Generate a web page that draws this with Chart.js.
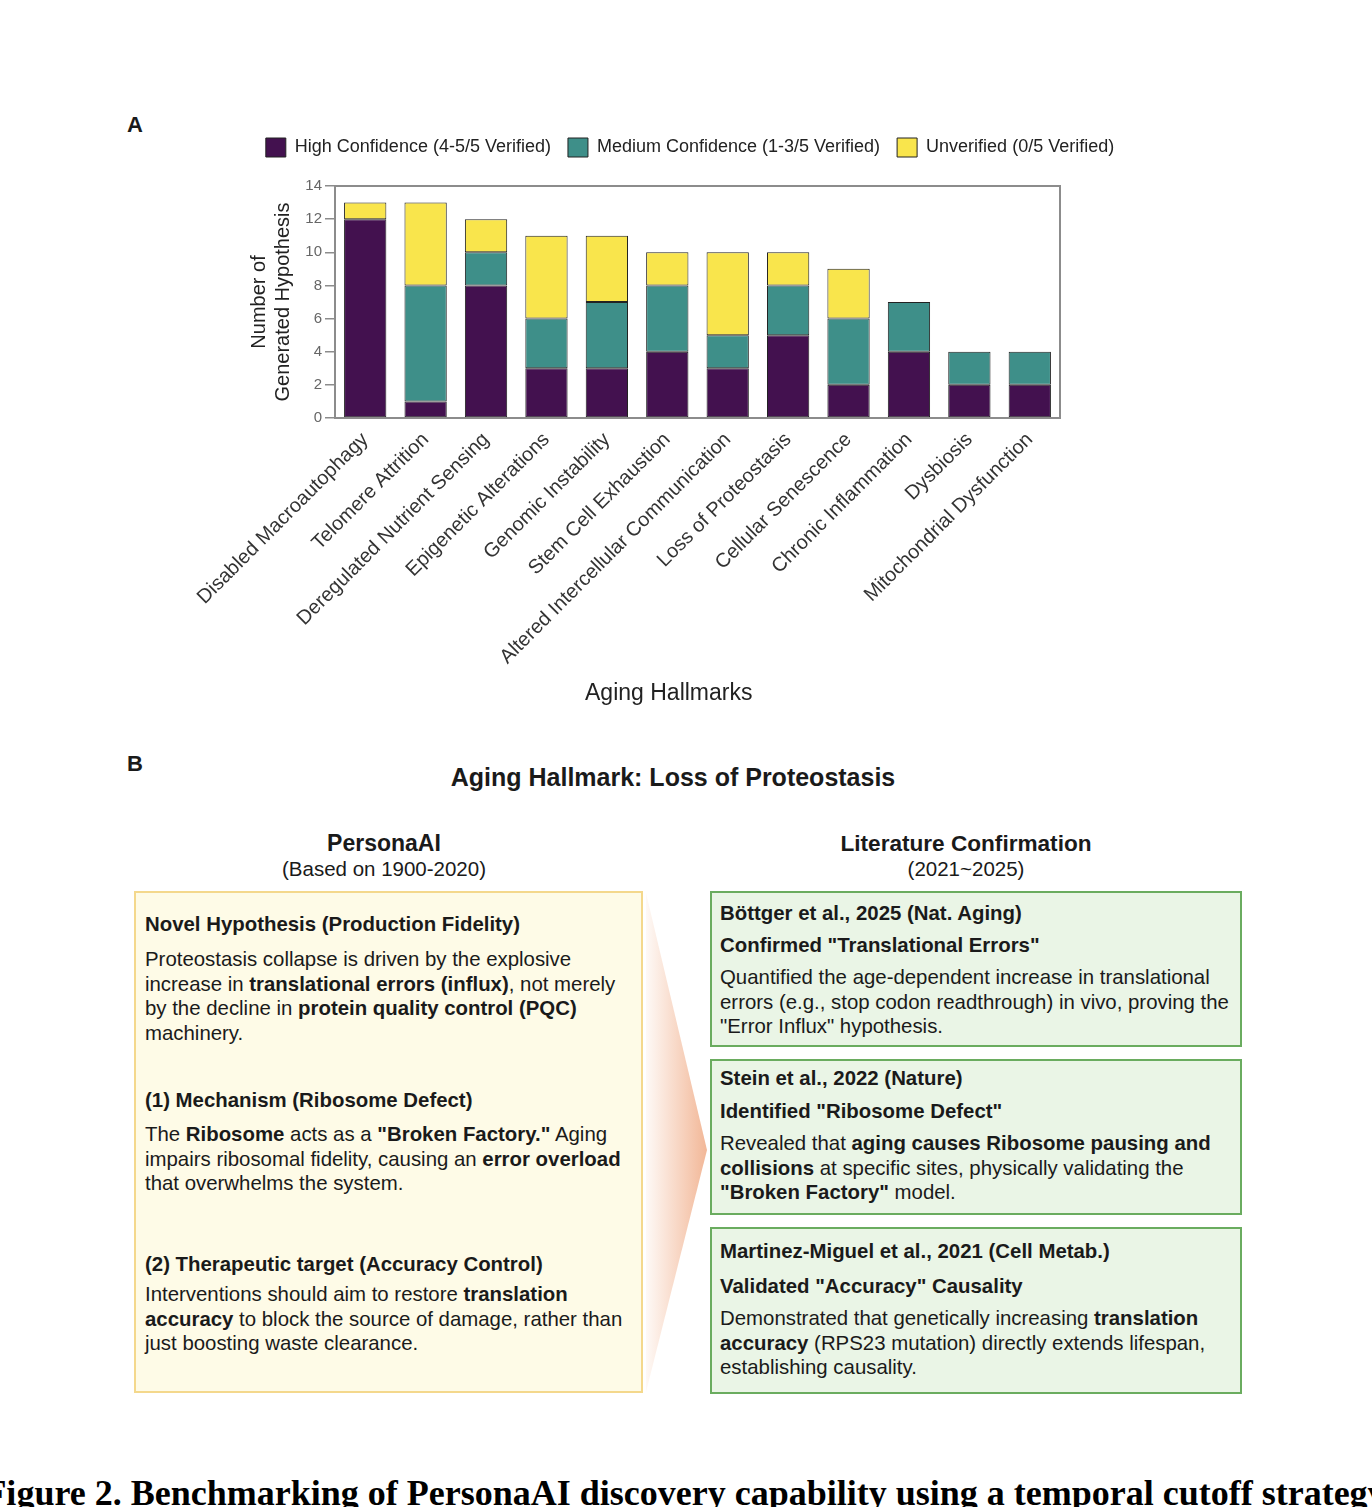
<!DOCTYPE html>
<html lang="en">
<head>
<meta charset="UTF-8">
<title>Aging Hallmarks - PersonaAI</title>
<script src="https://cdn.jsdelivr.net/npm/chart.js@4.4.1/dist/chart.umd.min.js"></script>
<style>
    body { margin: 0; width: 1372px; height: 1507px; position: relative; overflow: hidden; background: #fff;
           font-family: "Liberation Sans", Arial, sans-serif; color: #1a1a1a; }
    #hallmarkChart { position: absolute; left: 0; top: 0; }
    .abs { position: absolute; white-space: nowrap; }
    .plabel { font-weight: bold; font-size: 22px; line-height: 24px; }
    .center { text-align: center; }
    .box { position: absolute; box-sizing: border-box; border: 2px solid; }
    .yellow { background: #fefbe7; border-color: #f4d88c; }
    .green { background: #eaf5e6; border-color: #6aac5f; }
    .box .t { position: absolute; left: 8px; white-space: nowrap; font-size: 20.4px; line-height: 24.5px; }
    .yellow .t { left: 9px; }
    .box .h { font-weight: bold; }
    #arrow { position: absolute; left: 646px; top: 893px; width: 61px; height: 499px;
             clip-path: polygon(0 0, 100% 51.5%, 0 100%);
             background: linear-gradient(to right, rgba(252, 236, 226, 0.3), #f2b797); }
    #caption { position: absolute; top: 1475px; left: 685px; transform: translateX(-50%); white-space: nowrap;
               font-family: "Liberation Serif", "Times New Roman", serif; font-weight: bold; font-size: 36px; line-height: 36px; color: #000; }
</style>
</head>
<body>

<div class="abs plabel" style="left:127px; top:113px;">A</div>
<canvas id="hallmarkChart" width="1372" height="720"></canvas>

<div class="abs plabel" style="left:127px; top:752px;">B</div>
<div class="abs center" style="left:373px; width:600px; top:763px; font-size:25px; line-height:29px; font-weight:bold;">Aging Hallmark: Loss of Proteostasis</div>

<div class="abs center" style="left:234px; width:300px; top:830px; font-size:23px; line-height:27px; font-weight:bold;">PersonaAI</div>
<div class="abs center" style="left:234px; width:300px; top:857px; font-size:20.5px; line-height:24px;">(Based on 1900-2020)</div>
<div class="abs center" style="left:816px; width:300px; top:830px; font-size:22.6px; line-height:27px; font-weight:bold;">Literature Confirmation</div>
<div class="abs center" style="left:816px; width:300px; top:857px; font-size:20.5px; line-height:24px;">(2021~2025)</div>

<div class="box yellow" style="left:134px; top:891px; width:509px; height:502px;">
    <div class="t h" style="top:19px;">Novel Hypothesis (Production Fidelity)</div>
    <div class="t" style="top:54px;">Proteostasis collapse is driven by the explosive<br>increase in <b>translational errors (influx)</b>, not merely<br>by the decline in <b>protein quality control (PQC)</b><br>machinery.</div>
    <div class="t h" style="top:195px;">(1) Mechanism (Ribosome Defect)</div>
    <div class="t" style="top:229px;">The <b>Ribosome</b> acts as a <b>"Broken Factory."</b> Aging<br>impairs ribosomal fidelity, causing an <b>error overload</b><br>that overwhelms the system.</div>
    <div class="t h" style="top:359px;">(2) Therapeutic target (Accuracy Control)</div>
    <div class="t" style="top:389px;">Interventions should aim to restore <b>translation</b><br><b>accuracy</b> to block the source of damage, rather than<br>just boosting waste clearance.</div>
</div>

<div id="arrow"></div>

<div class="box green" style="left:710px; top:891px; width:532px; height:156px;">
    <div class="t h" style="top:8px;">Böttger et al., 2025 (Nat. Aging)</div>
    <div class="t h" style="top:40px;">Confirmed "Translational Errors"</div>
    <div class="t" style="top:72px;">Quantified the age-dependent increase in translational<br>errors (e.g., stop codon readthrough) in vivo, proving the<br>"Error Influx" hypothesis.</div>
</div>
<div class="box green" style="left:710px; top:1059px; width:532px; height:156px;">
    <div class="t h" style="top:5px;">Stein et al., 2022 (Nature)</div>
    <div class="t h" style="top:38px;">Identified "Ribosome Defect"</div>
    <div class="t" style="top:70px;">Revealed that <b>aging causes Ribosome pausing and</b><br><b>collisions</b> at specific sites, physically validating the<br><b>"Broken Factory"</b> model.</div>
</div>
<div class="box green" style="left:710px; top:1227px; width:532px; height:167px;">
    <div class="t h" style="top:10px;">Martinez-Miguel et al., 2021 (Cell Metab.)</div>
    <div class="t h" style="top:45px;">Validated "Accuracy" Causality</div>
    <div class="t" style="top:77px;">Demonstrated that genetically increasing <b>translation</b><br><b>accuracy</b> (RPS23 mutation) directly extends lifespan,<br>establishing causality.</div>
</div>

<div id="caption">Figure 2. Benchmarking of PersonaAI discovery capability using a temporal cutoff strategy</div>

<script>
    var hallmarks = ['Disabled Macroautophagy', 'Telomere Attrition', 'Deregulated Nutrient Sensing',
        'Epigenetic Alterations', 'Genomic Instability', 'Stem Cell Exhaustion',
        'Altered Intercellular Communication', 'Loss of Proteostasis', 'Cellular Senescence',
        'Chronic Inflammation', 'Dysbiosis', 'Mitochondrial Dysfunction'];
    var highConfidence   = [12, 1, 8, 3, 3, 4, 3, 5, 2, 4, 2, 2];
    var mediumConfidence = [0, 7, 2, 3, 4, 4, 2, 3, 4, 3, 2, 2];
    var unverified       = [1, 5, 2, 5, 4, 2, 5, 2, 3, 0, 0, 0];
    var seriesNames = ['High Confidence (4-5/5 Verified)', 'Medium Confidence (1-3/5 Verified)', 'Unverified (0/5 Verified)'];
    var seriesColors = ['#43114f', '#3e8f89', '#f9e54c'];

    Chart.defaults.font.family = '"Liberation Sans", Arial, sans-serif';

    // grey box round the plot area
    var frame = {
        id: 'frame',
        afterDatasetsDraw: function(chart) {
            var a = chart.chartArea, ctx = chart.ctx;
            ctx.save();
            ctx.strokeStyle = '#8c8c8c';
            ctx.lineWidth = 2;
            ctx.strokeRect(a.left, a.top, a.right - a.left, a.bottom - a.top);
            ctx.restore();
        }
    };

    var makeSeries = function(i, values) {
        return {
            label: seriesNames[i],
            data: values,
            backgroundColor: seriesColors[i],
            borderColor: '#222',
            borderWidth: 1,
            borderSkipped: false,
            categoryPercentage: 1.0,
            barPercentage: 0.7
        };
    };

    var ctx = document.getElementById('hallmarkChart').getContext('2d');
    var chart = new Chart(ctx, {
        type: 'bar',
        data: {
            labels: hallmarks,
            datasets: [makeSeries(0, highConfidence), makeSeries(1, mediumConfidence), makeSeries(2, unverified)]
        },
        plugins: [frame],
        options: {
            responsive: false,
            animation: false,
            layout: { padding: { left: 216, right: 208, top: 121, bottom: 13 } },
            plugins: {
                legend: {
                    position: 'top',
                    labels: { boxWidth: 20, boxHeight: 19, padding: 17, color: '#222', font: { size: 18 } }
                },
                tooltip: { enabled: false }
            },
            scales: {
                x: {
                    stacked: true,
                    grid: { display: false },
                    border: { display: false },
                    ticks: { autoSkip: false, minRotation: 45, maxRotation: 45, color: '#333', font: { size: 20 }, padding: 2 },
                    // trailing spaces pull the title left, as in the figure
                    title: { display: true, text: 'Aging Hallmarks         ', color: '#222', font: { size: 23 }, padding: { top: 0, bottom: 0 } },
                    afterFit: function(s) { s.height = 289; }
                },
                y: {
                    stacked: true,
                    min: 0,
                    max: 14,
                    ticks: { stepSize: 2, color: '#666', font: { size: 15 }, padding: 3 },
                    grid: { drawOnChartArea: false, color: '#8c8c8c', lineWidth: 1.5, tickLength: 10 },
                    border: { display: false },
                    title: { display: true, text: ['Number of', 'Generated Hypothesis'], color: '#222', font: { size: 20 }, padding: { top: 31, bottom: 0 } },
                    afterFit: function(s) { s.width = 119; }
                },
                // empty scales only used to space the legend and plot like the figure
                xPad: {
                    type: 'category', position: 'top',
                    grid: { display: false }, border: { display: false }, ticks: { display: false },
                    afterFit: function(s) { s.height = 19; }
                },
                yPad: {
                    type: 'linear', position: 'right',
                    grid: { display: false }, border: { display: false }, ticks: { display: false },
                    afterFit: function(s) { s.width = 104; }
                }
            }
        }
    });
</script>
</body>
</html>
